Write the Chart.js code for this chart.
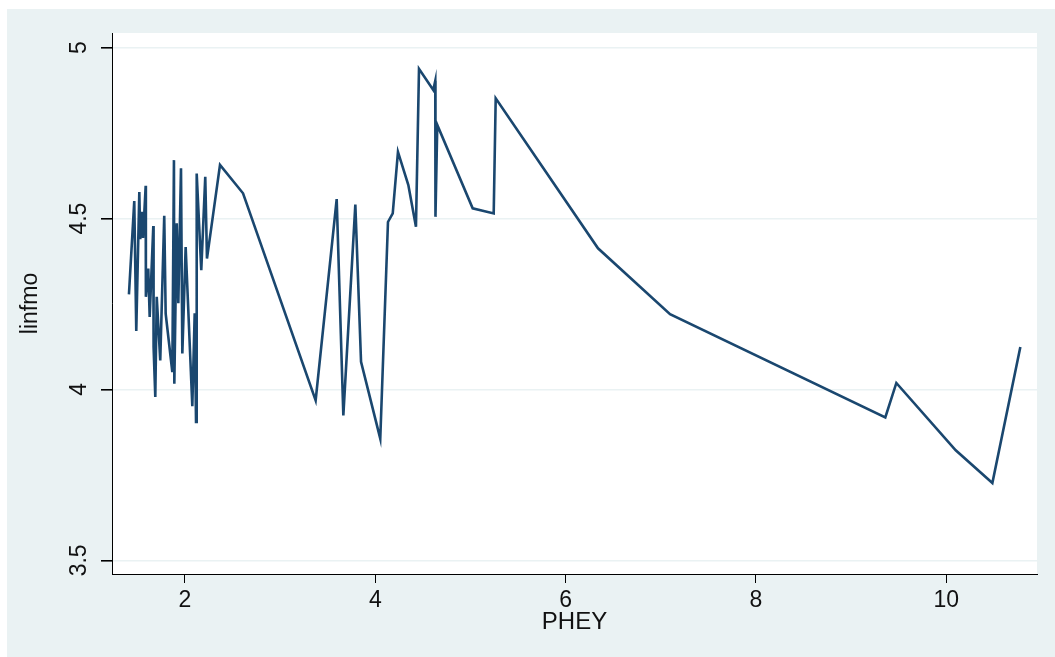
<!DOCTYPE html>
<html>
<head>
<meta charset="utf-8">
<title>linfmo vs PHEY</title>
<script src="https://cdn.jsdelivr.net/npm/chart.js@4.4.1/dist/chart.umd.min.js"></script>
<style>
  html, body { margin: 0; padding: 0; background: #ffffff; }
  canvas { display: block; }
</style>
</head>
<body>
<canvas id="lineChart" width="1055" height="657"></canvas>
<script>
// BEGIN: DATA (sorted by PHEY)
const phey = [
  1.411, 1.467, 1.488, 1.520, 1.530, 1.545, 1.559, 1.587, 1.589, 1.614,
  1.629, 1.667, 1.670, 1.688, 1.703, 1.740, 1.782, 1.797, 1.867, 1.884,
  1.888, 1.913, 1.930, 1.958, 1.972, 2.007, 2.077, 2.102, 2.116, 2.123,
  2.171, 2.213, 2.231, 2.368, 2.610, 3.373, 3.594, 3.664, 3.790, 3.850,
  4.052, 4.133, 4.183, 4.238, 4.347, 4.427, 4.459, 4.609, 4.630, 4.632,
  4.651, 5.023, 5.244, 5.265, 6.340, 7.097, 9.359, 9.475, 10.099, 10.484,
  10.778,
];
const linfmo = [
  4.278, 4.551, 4.171, 4.578, 4.440, 4.520, 4.443, 4.596, 4.271, 4.354,
  4.212, 4.478, 4.124, 3.978, 4.271, 4.085, 4.508, 4.222, 4.051, 4.671,
  4.017, 4.486, 4.252, 4.647, 4.105, 4.417, 3.951, 4.223, 3.905, 4.632,
  4.349, 4.622, 4.383, 4.657, 4.574, 3.968, 4.557, 3.924, 4.541, 4.081,
  3.856, 4.490, 4.515, 4.695, 4.598, 4.476, 4.938, 4.876, 4.903, 4.505,
  4.774, 4.530, 4.515, 4.852, 4.413, 4.220, 3.918, 4.019, 3.822, 3.726,
  4.124,
];
const xTicks = [2, 4, 6, 8, 10];
const yTicks = [3.5, 4, 4.5, 5];
const yTickLabels = ["3.5", "4", "4.5", "5"];
const xTitle = "PHEY";
const yTitle = "linfmo";
// END: DATA

const FONT = "Liberation Sans, Arial, sans-serif";
const navy = "#1a476f";
const stataBg = "#eaf2f3";

// stata look: grey-blue outer panel, white plot region, rotated y labels
const stataLook = {
  id: "stataLook",
  beforeDraw(chart) {
    const { ctx, chartArea } = chart;
    ctx.save();
    ctx.fillStyle = "#ffffff";
    ctx.fillRect(0, 0, chart.width, chart.height);
    ctx.fillStyle = stataBg;
    ctx.fillRect(7, 9, chart.width - 7, chart.height - 9);
    ctx.fillStyle = "#ffffff";
    ctx.fillRect(chartArea.left, chartArea.top,
      chartArea.right - chartArea.left, chartArea.bottom - chartArea.top);
    ctx.restore();
  },
  afterDraw(chart) {
    const { ctx, chartArea } = chart;
    const yScale = chart.scales.y;
    ctx.save();
    ctx.fillStyle = "#111";
    ctx.font = "23px " + FONT;
    ctx.textAlign = "center";
    ctx.textBaseline = "middle";
    // y tick labels, turned 90 degrees like stata does
    yTicks.forEach((v, i) => {
      const py = yScale.getPixelForValue(v);
      ctx.save();
      ctx.translate(80, py);
      ctx.rotate(-Math.PI / 2);
      ctx.fillText(yTickLabels[i], 0, 0);
      ctx.restore();
    });
    // axis titles
    ctx.save();
    ctx.translate(31, (chartArea.top + chartArea.bottom) / 2);
    ctx.rotate(-Math.PI / 2);
    ctx.fillText(yTitle, 0, 0);
    ctx.restore();
    ctx.font = "24px " + FONT;
    ctx.fillText(xTitle, (chartArea.left + chartArea.right) / 2, 622);
    ctx.restore();
  },
};

new Chart(document.getElementById("lineChart"), {
  type: "line",
  data: {
    datasets: [
      {
        label: yTitle,
        data: phey.map((x, i) => ({ x: x, y: linfmo[i] })),
        borderColor: navy,
        borderWidth: 2.6,
        pointRadius: 0,
        tension: 0,
        fill: false,
      },
    ],
  },
  options: {
    responsive: false,
    animation: false,
    devicePixelRatio: 1,
    layout: { padding: { left: 12, top: 33, right: 18, bottom: 0 } },
    plugins: { legend: { display: false }, tooltip: { enabled: false } },
    scales: {
      x: {
        type: "linear",
        min: 1.233,
        max: 10.953,
        afterBuildTicks: (scale) => {
          scale.ticks = xTicks.map((v) => ({ value: v }));
        },
        afterFit: (scale) => {
          scale.height = 83;
        },
        border: { color: "#000", width: 1 },
        grid: { drawOnChartArea: false, tickLength: 9, color: "#000", tickColor: "#000" },
        ticks: {
          color: "#111",
          font: { family: FONT, size: 23 },
          padding: 4,
          maxRotation: 0,
          callback: (v) => String(v),
        },
      },
      y: {
        min: 3.46,
        max: 5.043,
        afterBuildTicks: (scale) => {
          scale.ticks = yTicks.map((v) => ({ value: v }));
        },
        afterFit: (scale) => {
          scale.width = 100;
        },
        border: { color: "#000", width: 1 },
        grid: { color: stataBg, lineWidth: 1.6, tickLength: 11, tickColor: "#000" },
        ticks: { display: false },
      },
    },
  },
  plugins: [stataLook],
});
</script>
</body>
</html>
